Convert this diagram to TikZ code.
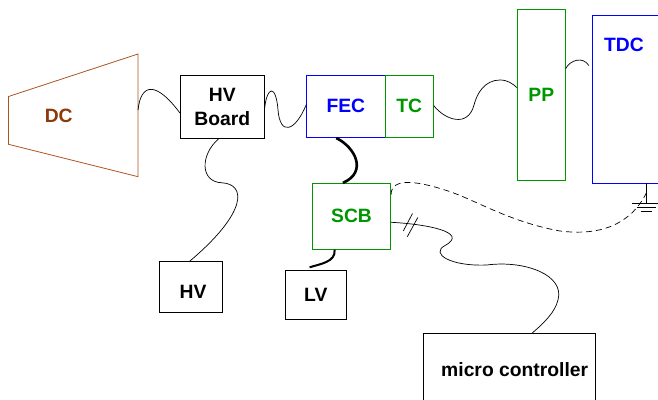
\documentclass[tikz,border=0pt]{standalone}
\usepackage{fontspec}
\setmainfont{Liberation Sans}
\usetikzlibrary{calc}
\definecolor{grn}{RGB}{0,150,0}
\definecolor{blu}{RGB}{0,0,255}
\definecolor{brn}{RGB}{139,58,10}
\definecolor{brnl}{RGB}{170,85,30}
\begin{document}
\begin{tikzpicture}[x=1pt,y=-1pt,
  txt/.style={font=\bfseries\fontsize{19.3}{24}\selectfont, inner sep=0},
  box/.style={draw, line width=0.8pt, inner sep=0, txt},
  wire/.style={line width=0.7pt},
  fatwire/.style={line width=2.6pt},
  midwire/.style={line width=2pt},
  dwire/.style={line width=0.7pt, dash pattern=on 6pt off 4pt}]
\clip (0,0) rectangle (658,399);
% DC detector
\draw[brnl, line width=0.8pt] (8.5,96.5) -- (138,54) -- (138,176.7) -- (8.5,144.3) -- cycle;
\coordinate (dcr) at (138,110);
\node[txt, text=brn] (dc) at (58.7,116) {DC};
% boxes
\node[box, minimum width=84, minimum height=63.3, align=center] (hvb) at (222.3,106.7) {HV\\Board};
\node[box, draw=blu, text=blu, minimum width=78.3, minimum height=62.7] (fec) at (345.85,106.35) {FEC};
\node[box, draw=grn, text=grn, minimum width=48.3, minimum height=62.7] (tc) at (409.15,106.35) {TC};
\node[box, draw=grn, text=grn, minimum width=48, minimum height=171] (pp) at (541.3,94.5) {PP};
\node[box, draw=blu, minimum width=110, minimum height=168] (tdc) at (647.3,99) {};
\node[txt, text=blu] (tdct) at (624,45) {TDC};
\node[box, draw=grn, text=grn, minimum width=78.4, minimum height=66] (scb) at (351.5,216.3) {SCB};
\node[box, minimum width=63.4, minimum height=51] (hv) at (191,287.2) {};
\node[txt] (hvt) at (193,292) {HV};
\node[box, minimum width=60.3, minimum height=48.3] (lv) at (315.85,294.85) {LV};
\node[box, minimum width=171.7, minimum height=76.7] (mc) at (509.15,371.7) {};
\node[txt] (mct) at (514.7,370) {micro controller};
% ground coordinate
\coordinate (gtop) at ($(tdc.south west)+(54.4,0)$);
\coordinate (gnd) at ($(gtop)+(0,9.7)$);
\coordinate (gbot) at ($(gtop)+(0,20.3)$);
% wires
\draw[wire] (dcr) .. controls (141,82) and (157,82) .. ([yshift=-6.3pt]hvb.west);
\draw[wire] ($(hvb.north east)+(0,33.3)$) .. controls (267,86) and (276,84) .. (278,110)
  .. controls (280,136) and (295,132) .. ($(fec.north west)+(0,30)$);
\draw[wire] ($(tc.north east)+(0,31)$) .. controls (445,120) and (468,128) .. (474,105)
  .. controls (477,93) and (485,80) .. (500,80) .. controls (508,80) and (513,84) .. ($(pp.north west)+(0,79)$);
\draw[wire] ($(pp.north east)+(0,60)$) .. controls (570,60) and (583,56) .. ($(tdc.north west)+(-3,51)$);
\draw[fatwire] ($(fec.south west)+(30,0)$) .. controls (355,147) and (368,172) .. ($(scb.north west)+(31,0)$);
\draw[midwire] ($(scb.south west)+(22.7,0)$) .. controls (336,262) and (320,264) .. ($(lv.north west)+(24.3,-3)$);
\draw[wire] ($(hvb.south west)+(38.7,0)$) .. controls (200,155) and (200,182) .. (222,182.8)
  .. controls (246,184) and (248,212) .. ($(hv.north west)+(30.7,0)$);
\draw[wire] ($(scb.east)+(0,6)$) .. controls (425,224) and (470,232) .. (445,245.5)
  .. controls (430,253.5) and (450,266.5) .. (486.7,265)
  .. controls (525,260) and (565,275) .. (558,300)
  .. controls (555,312) and (545,322) .. ($(mc.north west)+(109.4,0)$);
\draw[wire] (403.3,231) -- (412.5,213.5);
\draw[wire] (407.3,236.7) -- (417.8,217.5);
\draw[dwire] ($(scb.north east)+(0,11.7)$) .. controls (391,180) and (410,178) .. (450,191.7)
  .. controls (475,200) and (510,222) .. (560,231) .. controls (600,236) and (630,225) .. (gnd);
% ground symbol
\draw[wire] (gtop) -- (gbot);
\draw[wire] ($(gbot)+(-14.7,0)$) -- ($(gbot)+(14.7,0)$);
\draw[wire] ($(gbot)+(-9.7,3.5)$) -- ($(gbot)+(9.7,3.5)$);
\draw[wire] ($(gbot)+(-5.7,7.2)$) -- ($(gbot)+(5.3,7.2)$);
\end{tikzpicture}
\end{document}
